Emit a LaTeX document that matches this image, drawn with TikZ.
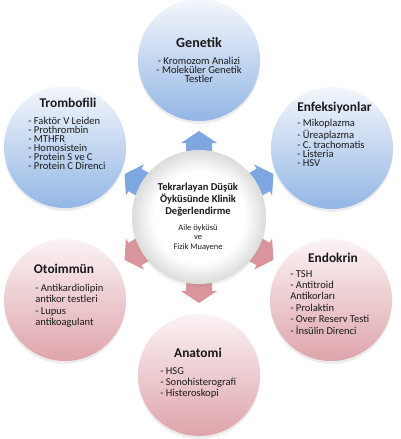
\documentclass[tikz,border=0pt]{standalone}
\usepackage{fontspec}
\setmainfont{Carlito}
\usetikzlibrary{shadows}

% Sfumatura del cerchio centrale
\pgfdeclareradialshading{bordo}{\pgfpoint{0bp}{0bp}}{color(0bp)=(white); color(17bp)=(white); color(25bp)=(black!14); color(50bp)=(black!14)}

\begin{document}
\begin{tikzpicture}[x=0.025cm, y=0.025cm,
  cerchio/.style={circle, minimum size=3.05cm, inner sep=0,
    drop shadow={opacity=0.15, shadow xshift=0pt, shadow yshift=-2pt}},
  blu/.style={cerchio, top color=colBluSu, bottom color=colBluGiu},
  rosa/.style={cerchio, top color=colRosaSu, bottom color=colRosaGiu},
  titolo/.style={font=\fontsize{9.5}{11}\selectfont\bfseries, text=colTesto, inner sep=0},
  voci/.style={font=\fontsize{7.5}{6.4}\selectfont, text=colTesto, align=left, anchor=north west, inner sep=0},
  vocilarghe/.style={voci, font=\fontsize{7.5}{8.1}\selectfont}]

% Colori
\definecolor{colBluSu}{HTML}{F4F7FC}
\definecolor{colBluGiu}{HTML}{93B6E5}
\definecolor{colRosaSu}{HTML}{FBF3F4}
\definecolor{colRosaGiu}{HTML}{DEA4AB}
\definecolor{colFrecciaBlu}{HTML}{7EA6E0}
\definecolor{colFrecciaRosa}{HTML}{D9959B}
\definecolor{colTesto}{HTML}{1A1A1A}

\useasboundingbox (0,0) rectangle (400,-439);

% Cerchi esterni
\node[blu] (genetik) at (199,-60) {};
\node[blu] (trombofili) at (65,-147) {};
\node[blu] (enfeksiyon) at (332,-148) {};
\node[rosa] (otoimmun) at (65,-300) {};
\node[rosa] (endokrin) at (331,-300) {};
\node[rosa] (anatomi) at (199,-375) {};

% Frecce
\foreach \ang/\col in {90/colFrecciaBlu, 30/colFrecciaBlu, 150/colFrecciaBlu,
                       -30/colFrecciaRosa, -90/colFrecciaRosa, -150/colFrecciaRosa}
  \fill[\col, shift={(199,-217)}, rotate=\ang]
    (60,-13) -- (74,-13) -- (74,-18) -- (86,0) -- (74,18) -- (74,13) -- (60,13) -- cycle;

% Cerchio centrale
\node[circle, minimum size=3.35cm, inner sep=0, shading=bordo,
  drop shadow={opacity=0.12, shadow xshift=0pt, shadow yshift=-2pt}] (centro) at (199,-217) {};

% Testi
\node[titolo, font=\fontsize{10}{11}\selectfont\bfseries] (tGenetik) at (199,-43) {Genetik};
\node[voci, align=center, anchor=north] (vGenetik) at (199,-57)
  {- Kromozom Analizi\\- Moleküler Genetik\\Testler};

\node[titolo] (tTrombofili) at (68,-103) {Trombofili};
\node[voci] (vTrombofili) at (28,-117)
  {- Faktör V Leiden\\- Prothrombin\\- MTHFR\\- Homosistein\\- Protein S ve C\\- Protein C Direnci};

\node[titolo, anchor=west] (tEnfeksiyon) at (297,-108) {Enfeksiyonlar};
\node[voci] (vEnfeksiyon) at (297,-119)
  {- Mikoplazma\\- Üreaplazma\\- C. trachomatis\\- Listeria\\- HSV};

\node[titolo] (tEndokrin) at (333,-258) {Endokrin};
\node[vocilarghe] (vEndokrin) at (290,-270)
  {- TSH\\- Antitroid\\Antikorları\\- Prolaktin\\- Over Reserv Testi\\- İnsülin Direnci};

\node[titolo] (tOtoimmun) at (64,-269) {Otoimmün};
\node[vocilarghe] (vOtoimmun) at (35,-284)
  {- Antikardiolipin\\antikor testleri\\- Lupus\\antikoagulant};

\node[titolo] (tAnatomi) at (198,-353) {Anatomi};
\node[vocilarghe] (vAnatomi) at (160,-367)
  {- HSG\\- Sonohisterografi\\- Histeroskopi};

\node[font=\fontsize{7.5}{8.3}\selectfont\bfseries, text=colTesto, align=center, anchor=north, inner sep=0]
  (tCentro) at (198,-183) {Tekrarlayan Düşük\\Öyküsünde Klinik\\Değerlendirme};
\node[font=\fontsize{6}{6.9}\selectfont, text=colTesto, align=center, anchor=north, inner sep=0]
  (vCentro) at (198,-224) {Aile öyküsü\\ve\\Fizik Muayene};

\end{tikzpicture}
\end{document}
